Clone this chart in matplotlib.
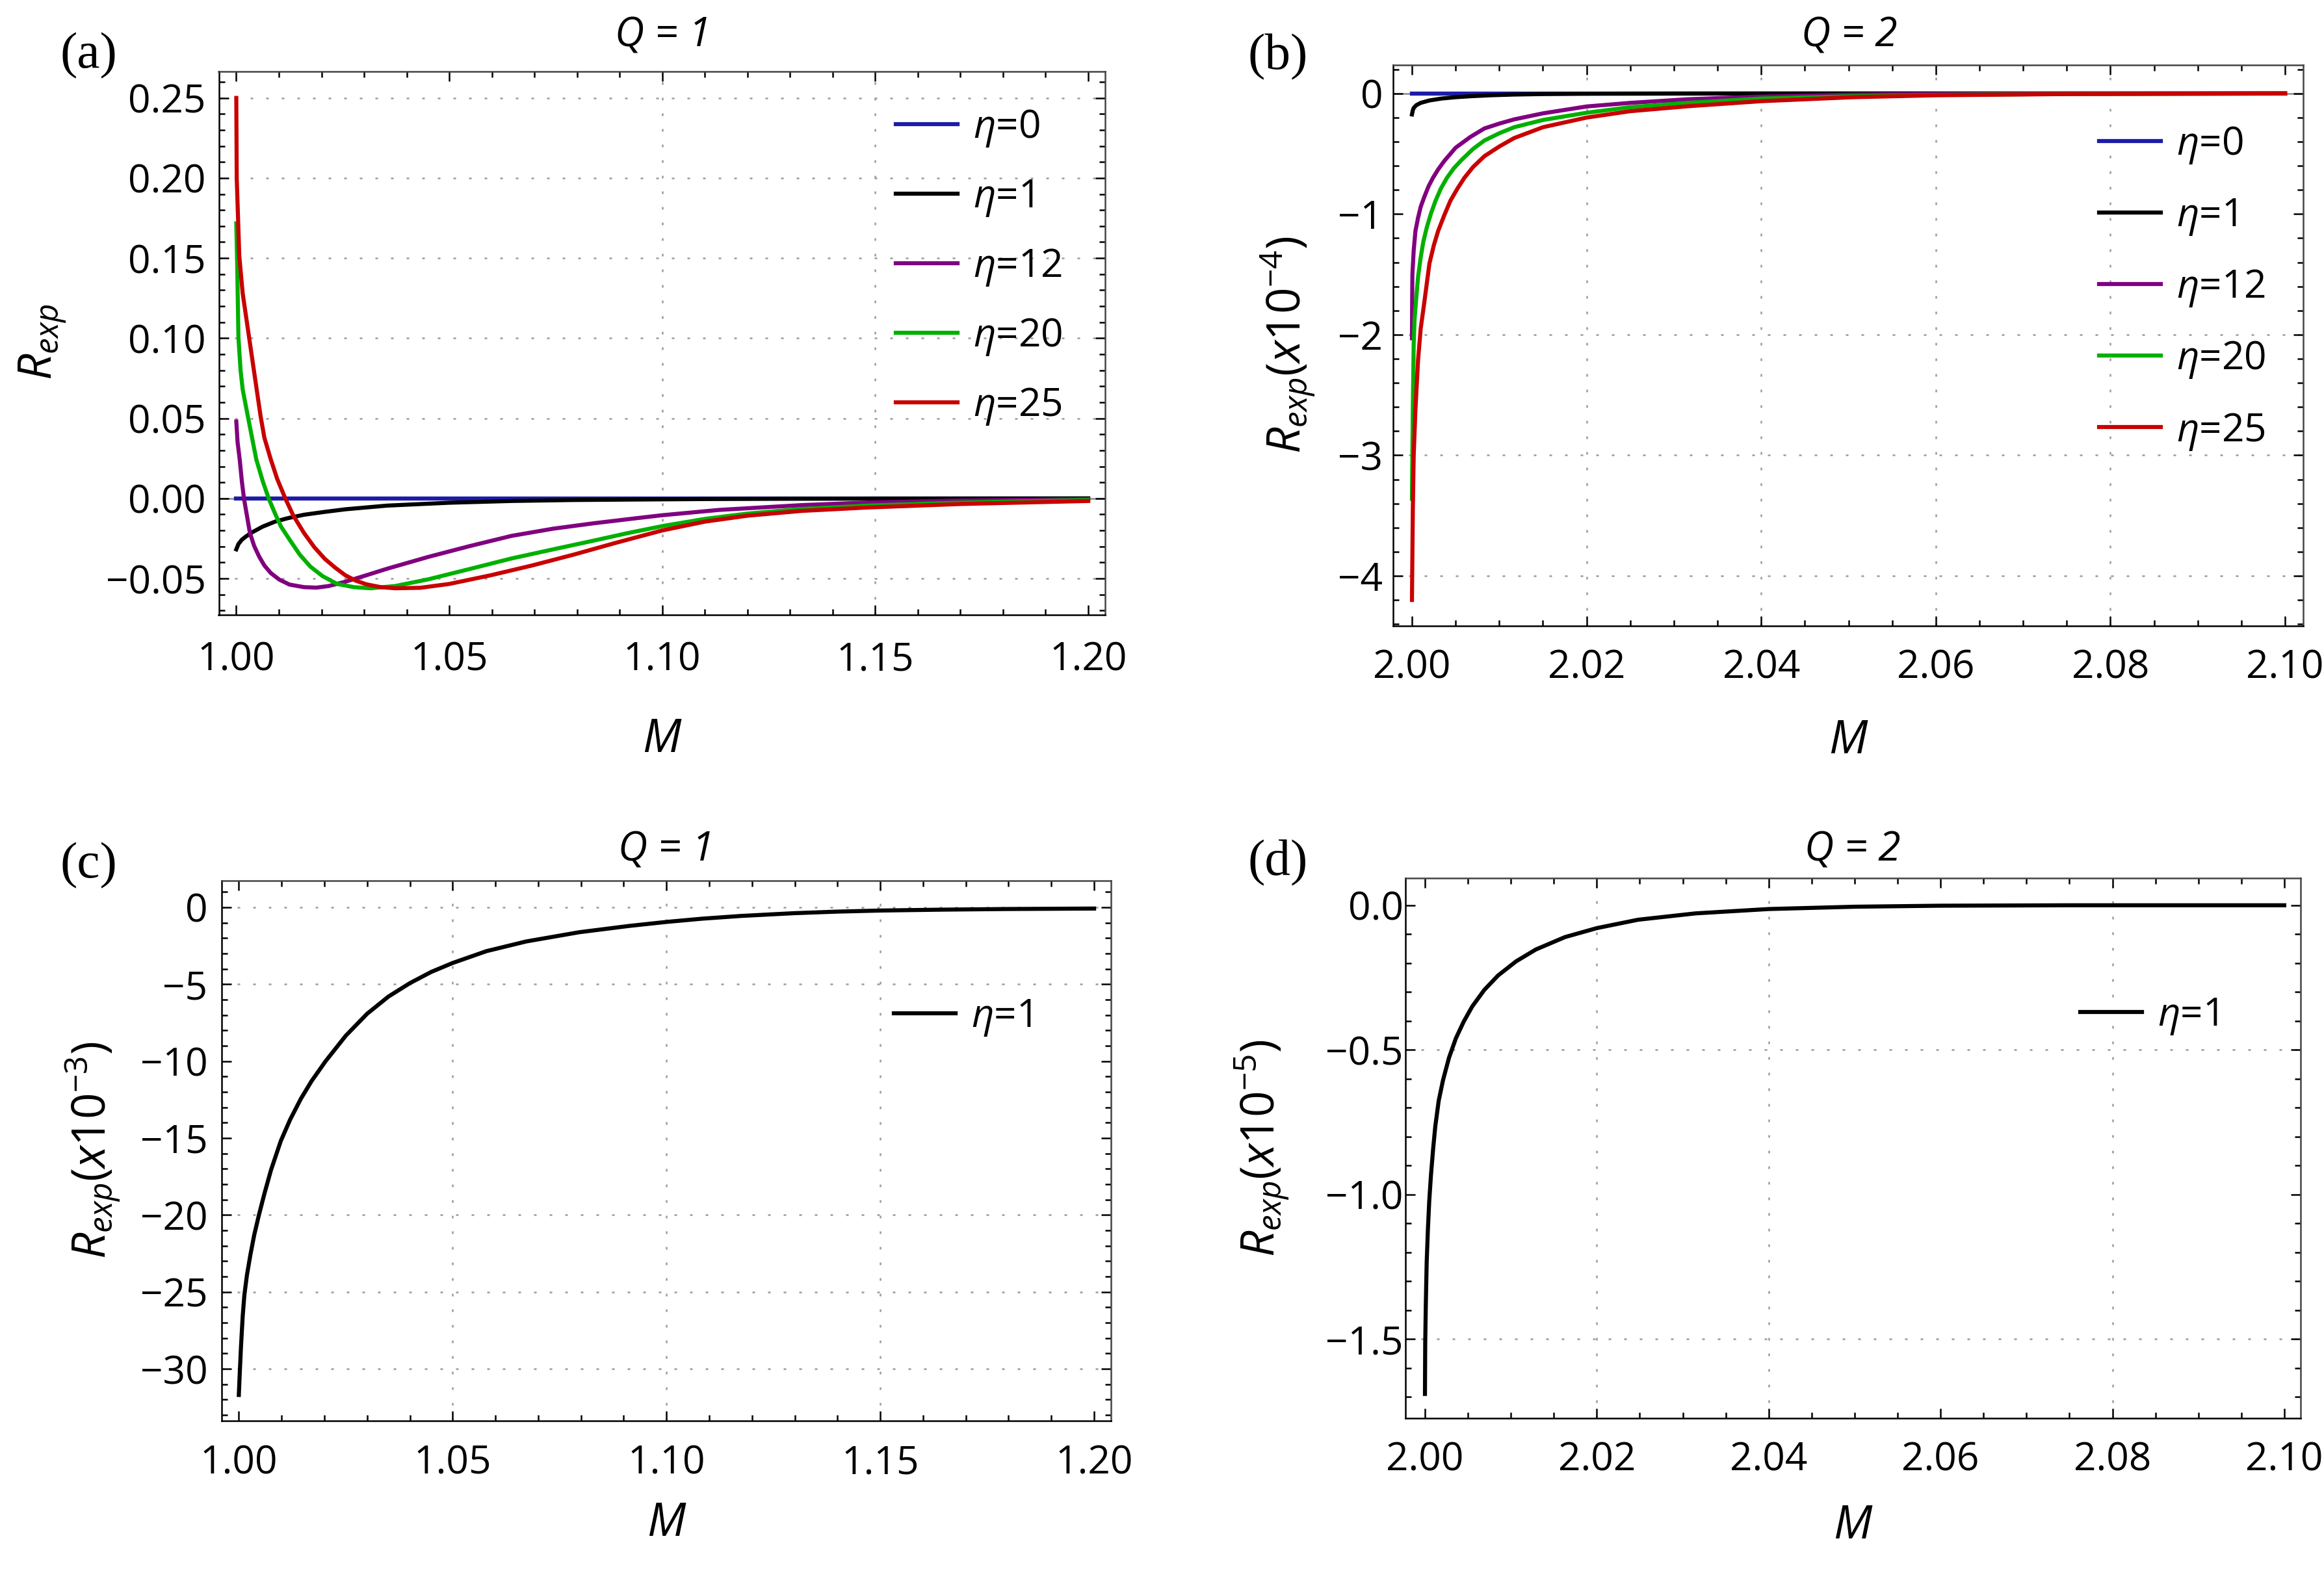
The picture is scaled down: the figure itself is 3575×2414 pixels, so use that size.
import numpy as np
import matplotlib.pyplot as plt
from matplotlib.ticker import MultipleLocator, FuncFormatter

# ---------------- data ----------------
# panel (a): Q = 1, R_exp
m_a_eta0 = [1.00, 1.20]
r_a_eta0 = [0.0, 0.0]

m_a_eta1 = [1.0000, 1.0005, 1.0013, 1.0023, 1.0037, 1.0062, 1.0091, 1.0120, 1.0159, 1.0208,
            1.0256, 1.0354, 1.0500, 1.0646, 1.0790, 1.0940, 1.1100, 1.1300, 1.1500, 1.1750,
            1.2000]
r_a_eta1 = [-0.0318, -0.0285, -0.0258, -0.0237, -0.0212, -0.0176, -0.0145, -0.0124, -0.0102, -0.0084,
            -0.0068, -0.0045, -0.0027, -0.0016, -0.0010, -0.0007, -0.0004, -0.0002, -0.0001, -0.00005,
            0.0]

m_a_eta12 = [1.0000, 1.0003, 1.0008, 1.0013, 1.0018, 1.0025, 1.0032, 1.0042, 1.0054, 1.0066,
             1.0081, 1.0101, 1.0125, 1.0159, 1.0188, 1.0217, 1.0256, 1.0305, 1.0354, 1.0451,
             1.0549, 1.0646, 1.0744, 1.0840, 1.0938, 1.1000, 1.1133, 1.1327, 1.1480, 1.1700,
             1.2000]
r_a_eta12 = [0.0480, 0.0351, 0.0243, 0.0108, 0.0000, -0.0108, -0.0216, -0.0297, -0.0365, -0.0419,
             -0.0466, -0.0507, -0.0538, -0.0554, -0.0557, -0.0547, -0.0520, -0.0480, -0.0439, -0.0365,
             -0.0297, -0.0234, -0.0189, -0.0155, -0.0124, -0.0105, -0.0072, -0.0042, -0.0026, -0.0013,
             -0.0005]

m_a_eta20 = [1.0000, 1.0002, 1.0005, 1.0010, 1.0015, 1.0027, 1.0037, 1.0047, 1.0062, 1.0076,
             1.0091, 1.0105, 1.0125, 1.0149, 1.0174, 1.0203, 1.0237, 1.0276, 1.0315, 1.0373,
             1.0451, 1.0549, 1.0646, 1.0744, 1.0840, 1.0920, 1.1000, 1.1100, 1.1200, 1.1327,
             1.1480, 1.1700, 1.2000]
r_a_eta20 = [0.1717, 0.1480, 0.1006, 0.0800, 0.0680, 0.0514, 0.0378, 0.0243, 0.0108, 0.0000,
             -0.0095, -0.0176, -0.0257, -0.0351, -0.0426, -0.0486, -0.0534, -0.0554, -0.0561, -0.0547,
             -0.0505, -0.0440, -0.0375, -0.0318, -0.0263, -0.0216, -0.0173, -0.0128, -0.0095, -0.0066,
             -0.0045, -0.0026, -0.0010]

m_a_eta25 = [1.0000, 1.0001, 1.0007, 1.0015, 1.0030, 1.0045, 1.0057, 1.0066, 1.0081, 1.0096,
             1.0115, 1.0134, 1.0159, 1.0183, 1.0208, 1.0232, 1.0256, 1.0281, 1.0305, 1.0339,
             1.0373, 1.0432, 1.0500, 1.0597, 1.0694, 1.0792, 1.0890, 1.1000, 1.1100, 1.1200,
             1.1327, 1.1480, 1.1700, 1.2000]
r_a_eta25 = [0.2500, 0.2000, 0.1514, 0.1280, 0.1006, 0.0732, 0.0514, 0.0378, 0.0243, 0.0122,
             0.0000, -0.0108, -0.0216, -0.0304, -0.0378, -0.0432, -0.0480, -0.0514, -0.0536, -0.0554,
             -0.0561, -0.0558, -0.0534, -0.0480, -0.0419, -0.0351, -0.0278, -0.0200, -0.0145, -0.0108,
             -0.0078, -0.0057, -0.0035, -0.0016]

# panel (b): Q = 2, R_exp in units of 1e-4
m_b_eta0 = [2.00, 2.10]
r_b_eta0 = [0.0, 0.0]

m_b_eta1 = [2.0000, 2.0001, 2.0002, 2.0005, 2.0010, 2.0020, 2.0034, 2.0050, 2.0067, 2.0090,
            2.0117, 2.0150, 2.0200, 2.0300, 2.0400, 2.1000]
r_b_eta1 = [-0.174, -0.140, -0.120, -0.097, -0.078, -0.058, -0.042, -0.031, -0.023, -0.015,
            -0.009, -0.005, -0.002, -0.0005, 0.0, 0.0]

m_b_eta12 = [2.0000, 2.00002, 2.00005, 2.0002, 2.0004, 2.0007, 2.0010, 2.0014, 2.0019, 2.0024,
             2.0030, 2.0037, 2.0050, 2.0067, 2.0083, 2.0100, 2.0117, 2.0150, 2.0200, 2.0250,
             2.0316, 2.0400, 2.0505, 2.0600, 2.0750, 2.1000]
r_b_eta12 = [-2.03, -1.74, -1.50, -1.30, -1.14, -1.03, -0.94, -0.86, -0.77, -0.70,
             -0.63, -0.56, -0.45, -0.36, -0.29, -0.25, -0.215, -0.165, -0.108, -0.078,
             -0.048, -0.026, -0.010, -0.004, -0.001, 0.0]

m_b_eta20 = [2.0000, 2.0001, 2.0002, 2.0003, 2.0005, 2.0007, 2.0010, 2.0013, 2.0017, 2.0022,
             2.0027, 2.0033, 2.0040, 2.0048, 2.0057, 2.0070, 2.0083, 2.0100, 2.0117, 2.0150,
             2.0200, 2.0250, 2.0316, 2.0400, 2.0505, 2.0600, 2.0750, 2.1000]
r_b_eta20 = [-3.36, -2.62, -2.07, -1.87, -1.69, -1.52, -1.36, -1.23, -1.11, -0.99,
             -0.89, -0.79, -0.70, -0.62, -0.55, -0.46, -0.39, -0.33, -0.28, -0.22,
             -0.16, -0.114, -0.078, -0.042, -0.023, -0.012, -0.004, 0.0]

m_b_eta25 = [2.0000, 2.0001, 2.0002, 2.0004, 2.0007, 2.0010, 2.0014, 2.0020, 2.0025, 2.0030,
             2.0037, 2.0044, 2.0052, 2.0060, 2.0070, 2.0083, 2.0100, 2.0117, 2.0150, 2.0200,
             2.0250, 2.0316, 2.0400, 2.0505, 2.0600, 2.0750, 2.1000]
r_b_eta25 = [-4.20, -3.45, -3.00, -2.62, -2.21, -1.95, -1.74, -1.41, -1.26, -1.14,
             -1.01, -0.89, -0.79, -0.70, -0.61, -0.52, -0.44, -0.37, -0.28, -0.20,
             -0.147, -0.106, -0.064, -0.031, -0.015, -0.005, 0.0]

# panel (c): Q = 1, eta = 1, units of 1e-3
m_c = [1.0000, 1.0002, 1.0005, 1.0009, 1.0013, 1.0019, 1.0027, 1.0036, 1.0047, 1.0060,
       1.0075, 1.0098, 1.0120, 1.0145, 1.0170, 1.0203, 1.0250, 1.0300, 1.0350, 1.0400,
       1.0450, 1.0500, 1.0579, 1.0672, 1.0796, 1.0913, 1.1000, 1.1083, 1.1175, 1.1300,
       1.1400, 1.1500, 1.1650, 1.1800, 1.2000]
r_c = [-31.7, -30.4, -28.6, -26.6, -25.2, -23.9, -22.6, -21.3, -20.0, -18.6,
       -17.1, -15.2, -13.8, -12.45, -11.3, -10.0, -8.35, -6.92, -5.80, -4.93,
       -4.20, -3.62, -2.85, -2.22, -1.62, -1.21, -0.95, -0.74, -0.56, -0.38,
       -0.28, -0.21, -0.15, -0.11, -0.08]

# panel (d): Q = 2, eta = 1, units of 1e-5
m_d = [2.0000, 2.00003, 2.0001, 2.0002, 2.00034, 2.0005, 2.0007, 2.00095, 2.0012, 2.0016,
       2.0021, 2.0028, 2.0036, 2.0045, 2.0055, 2.0069, 2.0085, 2.0106, 2.0129, 2.0163,
       2.0200, 2.0248, 2.0315, 2.0400, 2.0500, 2.0600, 2.0750, 2.1000]
r_d = [-1.69, -1.515, -1.38, -1.235, -1.123, -1.022, -0.933, -0.843, -0.765, -0.676,
       -0.605, -0.527, -0.460, -0.403, -0.350, -0.293, -0.243, -0.194, -0.153, -0.110,
       -0.079, -0.050, -0.028, -0.013, -0.005, -0.0015, 0.0, 0.0]

eta_labels = ['0', '1', '12', '20', '25']
colors = ['#1c1ca8', '#000000', '#800080', '#00b000', '#c80000']

# ---------------- figure ----------------
plt.rcParams['font.family'] = ['Open Sans', 'DejaVu Sans']
plt.rcParams['mathtext.fontset'] = 'custom'
plt.rcParams['mathtext.it'] = 'Open Sans:italic'
plt.rcParams['mathtext.rm'] = 'Open Sans'
plt.rcParams['mathtext.bf'] = 'Open Sans:bold'
plt.rcParams['lines.solid_joinstyle'] = 'round'

W, H = 3575, 2414
fig = plt.figure(figsize=(W / 300, H / 300), dpi=300)


def box(l, t, r, b):
    return [l / W, 1 - b / H, (r - l) / W, (b - t) / H]


def fmt(dec):
    return FuncFormatter(lambda v, p: ('%.*f' % (dec, v)).replace('-', '\u2212')
                         if abs(v) > 1e-12 else '%.*f' % (dec, 0.0))


def setup(ax, xlim, ylim, xmaj, xmin, ymaj, ymin, xdec, ydec, xgrid, ygrid, xpad, ypad):
    ax.set_xlim(*xlim)
    ax.set_ylim(*ylim)
    ax.xaxis.set_major_locator(MultipleLocator(xmaj))
    ax.xaxis.set_minor_locator(MultipleLocator(xmin))
    ax.yaxis.set_major_locator(MultipleLocator(ymaj))
    ax.yaxis.set_minor_locator(MultipleLocator(ymin))
    ax.xaxis.set_major_formatter(fmt(xdec))
    ax.yaxis.set_major_formatter(fmt(ydec))
    ax.tick_params(which='both', direction='in', top=True, right=True, width=0.6,
                   labelsize=14.5, color='black')
    ax.tick_params(which='major', length=3.6)
    ax.tick_params(which='minor', length=2.1)
    ax.tick_params(axis='x', pad=xpad)
    ax.tick_params(axis='y', pad=ypad)
    for s in ax.spines.values():
        s.set_linewidth(0.6)
    ax.spines['top'].set_color('#444444')
    ax.spines['right'].set_color('#444444')
    ax.grid(True, which='major', color='#9a9a9a', lw=0.6, linestyle=(0, (1.6, 8)))
    fig.canvas.draw()
    # only the grid lines that show in the reference
    for line, t in zip(ax.get_xgridlines(), ax.get_xticks()):
        line.set_visible(any(abs(t - g) < 1e-9 for g in xgrid))
    for line, t in zip(ax.get_ygridlines(), ax.get_yticks()):
        line.set_visible(any(abs(t - g) < 1e-9 for g in ygrid))


def add_legend(ax, handles, labels, left, top, spacing):
    ax.legend(handles, labels, loc='upper left', bbox_to_anchor=(left / W, 1 - top / H),
              bbox_transform=fig.transFigure, frameon=False, fontsize=14.5,
              borderpad=0, borderaxespad=0, handlelength=1.57, handletextpad=0.4,
              labelspacing=spacing)


lw = 1.5

# (a)
ax_a = fig.add_axes(box(336.5, 110, 1700, 946))
ax_a.axhline(0, color='#8a8a8a', lw=0.6, zorder=1)
lines_a = []
for m, r, c in zip([m_a_eta0, m_a_eta1, m_a_eta12, m_a_eta20, m_a_eta25],
                   [r_a_eta0, r_a_eta1, r_a_eta12, r_a_eta20, r_a_eta25], colors):
    lines_a += ax_a.plot(m, r, color=c, lw=lw, zorder=3)
setup(ax_a, (0.99588, 1.20397), (-0.0727, 0.2665), 0.05, 0.01, 0.05, 0.01, 2, 2,
      [1.10, 1.15], [0.25, 0.20, 0.15, 0.10, 0.05, -0.05], 9.5, 4.8)
add_legend(ax_a, lines_a, [r'$\eta$=' + e for e in eta_labels], 1378, 166, 0.73)

# (b)
ax_b = fig.add_axes(box(2143, 100, 3543, 963))
ax_b.axhline(0, color='#8a8a8a', lw=0.6, zorder=1)
lines_b = []
for m, r, c in zip([m_b_eta0, m_b_eta1, m_b_eta12, m_b_eta20, m_b_eta25],
                   [r_b_eta0, r_b_eta1, r_b_eta12, r_b_eta20, r_b_eta25], colors):
    lines_b += ax_b.plot(m, r, color=c, lw=lw, zorder=3)
setup(ax_b, (1.99784, 2.10208), (-4.415, 0.236), 0.02, 0.005, 1, 0.2, 2, 0,
      [2.02, 2.04, 2.06, 2.08], [-2, -3, -4], 8.2, 3.8)
add_legend(ax_b, lines_b, [r'$\eta$=' + e for e in eta_labels], 3229, 192, 0.78)

# (c)
ax_c = fig.add_axes(box(341, 1355, 1709, 2186))
line_c, = ax_c.plot(m_c, r_c, color='black', lw=lw, zorder=3)
setup(ax_c, (0.99599, 1.20395), (-33.38, 1.73), 0.05, 0.01, 5, 1, 2, 0,
      [1.05, 1.10, 1.15], [0, -5, -20, -25, -30], 8.5, 5.2)
add_legend(ax_c, [line_c], [r'$\eta$=1'], 1375, 1534, 1.0)

# (d)
ax_d = fig.add_axes(box(2162, 1351, 3539, 2182))
line_d, = ax_d.plot(m_d, r_d, color='black', lw=lw, zorder=3)
setup(ax_d, (1.99773, 2.1019), (-1.774, 0.094), 0.02, 0.005, 0.5, 0.1, 2, 1,
      [2.02, 2.04, 2.08], [-0.5, -1.5], 8.2, 0.8)
add_legend(ax_d, [line_d], [r'$\eta$=1'], 3200, 1532, 1.0)

# texts: panel tags, titles, axis labels
for tag, x, y in [('(a)', 92, 86), ('(b)', 1919, 88), ('(c)', 92, 1332), ('(d)', 1919, 1328)]:
    fig.text(x / W, 1 - y / H, tag, family='Liberation Serif', fontsize=19,
             ha='left', va='center')

for title, x, y in [('Q = 1', 1020, 55), ('Q = 2', 2845, 55),
                    ('Q = 1', 1025, 1308), ('Q = 2', 2850, 1308)]:
    fig.text(x / W, 1 - y / H, title, fontsize=15, style='italic', ha='center', va='center')

for x, y in [(1018, 1138), (2843, 1140), (1025, 2344), (2850, 2348)]:
    fig.text(x / W, 1 - y / H, 'M', fontsize=17, style='italic', ha='center', va='center')

for text, x, y in [(r'$R_{exp}$', 66, 526),
                   (r'$R_{exp}(\mathit{x10}^{-4})$', 1981, 530),
                   (r'$R_{exp}(\mathit{x10}^{-3})$', 143, 1769),
                   (r'$R_{exp}(\mathit{x10}^{-5})$', 1941, 1766)]:
    fig.text(x / W, 1 - y / H, text, fontsize=17, rotation=90, ha='center', va='center')

fig.savefig('out.png', dpi=300)
